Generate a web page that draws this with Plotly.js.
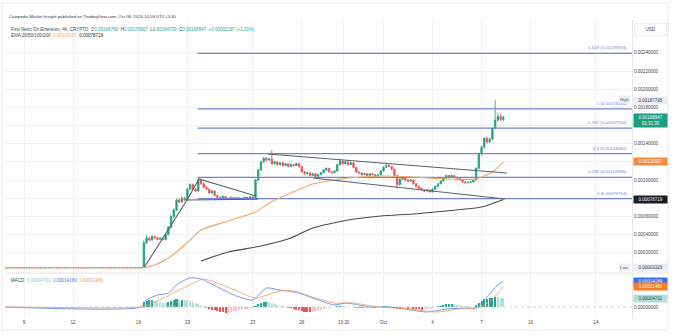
<!DOCTYPE html>
<html><head><meta charset="utf-8">
<script src="https://cdn.plot.ly/plotly-3.0.1.min.js"></script>
<style>html,body{margin:0;padding:0;background:#fff;}#chart{width:676px;height:336px;}</style>
</head><body><div id="chart"></div>
<script>
// ---------------- DATA ----------------
// 4h candles, first candle 2024-09-07 20:00, 51 pre-launch candles then 133 candles from 2024-09-16 08:00
const preCount = 51;
const open = [
3.50e-5,3.52e-5,3.48e-5,3.55e-5,3.60e-5,3.57e-5,3.50e-5,3.46e-5,3.51e-5,3.58e-5,3.62e-5,3.59e-5,3.54e-5,3.49e-5,3.45e-5,3.50e-5,3.56e-5,3.61e-5,3.66e-5,3.62e-5,
3.57e-5,3.53e-5,3.49e-5,3.52e-5,3.58e-5,3.63e-5,3.60e-5,3.55e-5,3.50e-5,3.47e-5,3.44e-5,3.49e-5,3.54e-5,3.59e-5,3.64e-5,3.68e-5,3.63e-5,3.58e-5,3.54e-5,3.50e-5,
3.47e-5,3.51e-5,3.56e-5,3.60e-5,3.57e-5,3.53e-5,3.49e-5,3.46e-5,3.50e-5,3.54e-5,3.52e-5,
3.55e-5,3.10e-4,3.60e-4,3.40e-4,3.80e-4,3.65e-4,3.50e-4,3.60e-4,3.45e-4,4.00e-4,
4.80e-4,6.00e-4,6.70e-4,7.80e-4,7.60e-4,8.00e-4,7.80e-4,9.00e-4,9.50e-4,9.00e-4,
8.80e-4,1.000e-3,9.60e-4,9.20e-4,9.00e-4,8.60e-4,8.80e-4,8.30e-4,8.10e-4,8.00e-4,
8.20e-4,8.00e-4,7.90e-4,8.10e-4,7.95e-4,8.05e-4,7.90e-4,8.00e-4,8.10e-4,8.00e-4,
8.15e-4,8.05e-4,1.000e-3,1.110e-3,1.200e-3,1.240e-3,1.220e-3,1.230e-3,1.180e-3,1.200e-3,
1.170e-3,1.190e-3,1.160e-3,1.180e-3,1.150e-3,1.170e-3,1.160e-3,1.180e-3,1.150e-3,1.090e-3,
1.070e-3,1.080e-3,1.050e-3,1.070e-3,1.040e-3,1.060e-3,1.080e-3,1.110e-3,1.130e-3,1.090e-3,
1.080e-3,1.100e-3,1.170e-3,1.210e-3,1.180e-3,1.200e-3,1.170e-3,1.190e-3,1.140e-3,1.090e-3,
1.080e-3,1.060e-3,1.070e-3,1.050e-3,1.070e-3,1.060e-3,1.040e-3,1.060e-3,1.100e-3,1.140e-3,
1.160e-3,1.150e-3,1.120e-3,1.050e-3,9.50e-4,1.010e-3,1.030e-3,1.000e-3,9.90e-4,1.000e-3,
9.60e-4,9.30e-4,9.10e-4,8.90e-4,8.80e-4,8.90e-4,8.70e-4,9.00e-4,9.30e-4,9.60e-4,
9.90e-4,1.020e-3,1.050e-3,1.030e-3,1.050e-3,1.030e-3,1.020e-3,1.000e-3,9.80e-4,9.70e-4,
9.75e-4,9.80e-4,1.000e-3,1.130e-3,1.290e-3,1.360e-3,1.460e-3,1.420e-3,1.450e-3,1.570e-3,
1.660e-3,1.700e-3,1.6676e-3];
const high = [
3.55e-5,3.55e-5,3.58e-5,3.63e-5,3.63e-5,3.60e-5,3.53e-5,3.54e-5,3.61e-5,3.65e-5,3.65e-5,3.62e-5,3.57e-5,3.52e-5,3.53e-5,3.59e-5,3.64e-5,3.69e-5,3.69e-5,3.65e-5,
3.60e-5,3.56e-5,3.55e-5,3.61e-5,3.66e-5,3.66e-5,3.63e-5,3.58e-5,3.53e-5,3.50e-5,3.52e-5,3.57e-5,3.62e-5,3.67e-5,3.71e-5,3.71e-5,3.66e-5,3.61e-5,3.57e-5,3.53e-5,
3.54e-5,3.59e-5,3.63e-5,3.63e-5,3.60e-5,3.56e-5,3.52e-5,3.53e-5,3.57e-5,3.57e-5,3.58e-5,
3.35e-4,3.95e-4,3.72e-4,3.92e-4,3.88e-4,3.70e-4,3.72e-4,3.66e-4,4.10e-4,4.95e-4,
6.15e-4,6.90e-4,8.00e-4,8.05e-4,8.20e-4,8.15e-4,9.15e-4,9.65e-4,9.60e-4,9.15e-4,
1.030e-3,1.010e-3,9.75e-4,9.35e-4,9.10e-4,8.90e-4,8.85e-4,8.40e-4,8.18e-4,8.30e-4,
8.25e-4,8.08e-4,8.18e-4,8.15e-4,8.12e-4,8.10e-4,8.06e-4,8.18e-4,8.14e-4,8.22e-4,
8.20e-4,1.010e-3,1.125e-3,1.210e-3,1.255e-3,1.250e-3,1.245e-3,1.330e-3,1.210e-3,1.210e-3,
1.200e-3,1.195e-3,1.190e-3,1.185e-3,1.180e-3,1.178e-3,1.190e-3,1.185e-3,1.155e-3,1.100e-3,
1.090e-3,1.085e-3,1.080e-3,1.075e-3,1.068e-3,1.090e-3,1.120e-3,1.140e-3,1.135e-3,1.095e-3,
1.110e-3,1.180e-3,1.240e-3,1.215e-3,1.210e-3,1.205e-3,1.200e-3,1.195e-3,1.145e-3,1.095e-3,
1.085e-3,1.080e-3,1.075e-3,1.078e-3,1.075e-3,1.065e-3,1.068e-3,1.110e-3,1.150e-3,1.175e-3,
1.170e-3,1.155e-3,1.125e-3,1.055e-3,1.020e-3,1.040e-3,1.035e-3,1.010e-3,1.010e-3,1.005e-3,
9.65e-4,9.40e-4,9.15e-4,9.00e-4,9.00e-4,8.95e-4,9.10e-4,9.40e-4,9.65e-4,9.95e-4,
1.030e-3,1.060e-3,1.055e-3,1.060e-3,1.055e-3,1.040e-3,1.025e-3,1.005e-3,9.85e-4,9.82e-4,
9.90e-4,1.005e-3,1.140e-3,1.300e-3,1.380e-3,1.470e-3,1.480e-3,1.470e-3,1.580e-3,1.87795e-3,
1.740e-3,1.730e-3,1.70807e-3];
const low = [
3.47e-5,3.45e-5,3.45e-5,3.52e-5,3.54e-5,3.47e-5,3.43e-5,3.43e-5,3.48e-5,3.55e-5,3.56e-5,3.51e-5,3.46e-5,3.42e-5,3.42e-5,3.47e-5,3.53e-5,3.58e-5,3.59e-5,3.54e-5,
3.50e-5,3.46e-5,3.46e-5,3.49e-5,3.55e-5,3.57e-5,3.52e-5,3.47e-5,3.44e-5,3.41e-5,3.41e-5,3.46e-5,3.51e-5,3.56e-5,3.61e-5,3.60e-5,3.55e-5,3.51e-5,3.47e-5,3.44e-5,
3.44e-5,3.48e-5,3.53e-5,3.54e-5,3.50e-5,3.46e-5,3.43e-5,3.43e-5,3.47e-5,3.49e-5,3.49e-5,
3.329e-5,2.95e-4,3.30e-4,3.35e-4,3.55e-4,3.40e-4,3.42e-4,3.35e-4,3.40e-4,3.95e-4,
4.70e-4,5.85e-4,6.60e-4,7.45e-4,7.50e-4,7.70e-4,7.75e-4,8.90e-4,8.90e-4,8.70e-4,
8.75e-4,9.50e-4,9.10e-4,8.90e-4,8.50e-4,8.50e-4,8.25e-4,8.00e-4,7.92e-4,7.95e-4,
7.95e-4,7.85e-4,7.86e-4,7.90e-4,7.90e-4,7.85e-4,7.86e-4,7.95e-4,7.94e-4,7.96e-4,
7.98e-4,8.00e-4,9.90e-4,1.100e-3,1.190e-3,1.205e-3,1.210e-3,1.170e-3,1.170e-3,1.160e-3,
1.160e-3,1.150e-3,1.155e-3,1.140e-3,1.145e-3,1.150e-3,1.155e-3,1.140e-3,1.080e-3,1.060e-3,
1.065e-3,1.040e-3,1.045e-3,1.030e-3,1.035e-3,1.055e-3,1.075e-3,1.100e-3,1.085e-3,1.070e-3,
1.075e-3,1.095e-3,1.160e-3,1.170e-3,1.175e-3,1.160e-3,1.165e-3,1.135e-3,1.080e-3,1.070e-3,
1.050e-3,1.055e-3,1.040e-3,1.045e-3,1.050e-3,1.030e-3,1.035e-3,1.055e-3,1.095e-3,1.135e-3,
1.140e-3,1.110e-3,1.040e-3,9.10e-4,9.40e-4,1.000e-3,9.90e-4,9.80e-4,9.85e-4,9.50e-4,
9.20e-4,9.00e-4,8.80e-4,8.70e-4,8.75e-4,8.60e-4,8.65e-4,8.95e-4,9.25e-4,9.55e-4,
9.85e-4,1.015e-3,1.020e-3,1.025e-3,1.020e-3,1.010e-3,9.90e-4,9.75e-4,9.60e-4,9.65e-4,
9.70e-4,9.75e-4,9.95e-4,1.120e-3,1.270e-3,1.350e-3,1.400e-3,1.410e-3,1.440e-3,1.560e-3,
1.640e-3,1.650e-3,1.64709e-3];
const close = [
3.52e-5,3.48e-5,3.55e-5,3.60e-5,3.57e-5,3.50e-5,3.46e-5,3.51e-5,3.58e-5,3.62e-5,3.59e-5,3.54e-5,3.49e-5,3.45e-5,3.50e-5,3.56e-5,3.61e-5,3.66e-5,3.62e-5,3.57e-5,
3.53e-5,3.49e-5,3.52e-5,3.58e-5,3.63e-5,3.60e-5,3.55e-5,3.50e-5,3.47e-5,3.44e-5,3.49e-5,3.54e-5,3.59e-5,3.64e-5,3.68e-5,3.63e-5,3.58e-5,3.54e-5,3.50e-5,3.47e-5,
3.51e-5,3.56e-5,3.60e-5,3.57e-5,3.53e-5,3.49e-5,3.46e-5,3.50e-5,3.54e-5,3.52e-5,3.55e-5,
3.10e-4,3.60e-4,3.40e-4,3.80e-4,3.65e-4,3.50e-4,3.60e-4,3.45e-4,4.00e-4,4.80e-4,
6.00e-4,6.70e-4,7.80e-4,7.60e-4,8.00e-4,7.80e-4,9.00e-4,9.50e-4,9.00e-4,8.80e-4,
1.000e-3,9.60e-4,9.20e-4,9.00e-4,8.60e-4,8.80e-4,8.30e-4,8.10e-4,8.00e-4,8.20e-4,
8.00e-4,7.90e-4,8.10e-4,7.95e-4,8.05e-4,7.90e-4,8.00e-4,8.10e-4,8.00e-4,8.15e-4,
8.05e-4,1.000e-3,1.110e-3,1.200e-3,1.240e-3,1.220e-3,1.230e-3,1.180e-3,1.200e-3,1.170e-3,
1.190e-3,1.160e-3,1.180e-3,1.150e-3,1.170e-3,1.160e-3,1.180e-3,1.150e-3,1.090e-3,1.070e-3,
1.080e-3,1.050e-3,1.070e-3,1.040e-3,1.060e-3,1.080e-3,1.110e-3,1.130e-3,1.090e-3,1.080e-3,
1.100e-3,1.170e-3,1.210e-3,1.180e-3,1.200e-3,1.170e-3,1.190e-3,1.140e-3,1.090e-3,1.080e-3,
1.060e-3,1.070e-3,1.050e-3,1.070e-3,1.060e-3,1.040e-3,1.060e-3,1.100e-3,1.140e-3,1.160e-3,
1.150e-3,1.120e-3,1.050e-3,9.50e-4,1.010e-3,1.030e-3,1.000e-3,9.90e-4,1.000e-3,9.60e-4,
9.30e-4,9.10e-4,8.90e-4,8.80e-4,8.90e-4,8.70e-4,9.00e-4,9.30e-4,9.60e-4,9.90e-4,
1.020e-3,1.050e-3,1.030e-3,1.050e-3,1.030e-3,1.020e-3,1.000e-3,9.80e-4,9.70e-4,9.75e-4,
9.80e-4,1.000e-3,1.130e-3,1.290e-3,1.360e-3,1.460e-3,1.420e-3,1.450e-3,1.570e-3,1.660e-3,
1.700e-3,1.668e-3,1.68947e-3];

// EMA lines
const emaFastDates = ['2024-09-07 20:00','2024-09-16 04:00','2024-09-16 08:00','2024-09-17 00:00','2024-09-17 20:00','2024-09-18 20:00','2024-09-19 20:00','2024-09-21 12:00','2024-09-23 04:00','2024-09-24 00:00','2024-09-25 08:00','2024-09-26 16:00','2024-09-28 20:00','2024-09-30 20:00','2024-10-02 20:00','2024-10-04 20:00','2024-10-06 16:00','2024-10-07 16:00','2024-10-08 08:00'];
const emaFastVals = [3.6e-5,3.5e-5,3.6e-5,6.6e-5,1.43e-4,2.86e-4,4.51e-4,5.50e-4,6.49e-4,7.48e-4,8.58e-4,9.57e-4,1.023e-3,1.045e-3,1.034e-3,1.012e-3,1.012e-3,1.089e-3,1.20037e-3];
const emaSlowDates = ['2024-09-19 20:00','2024-09-21 12:00','2024-09-23 12:00','2024-09-25 08:00','2024-09-26 16:00','2024-09-28 20:00','2024-09-30 20:00','2024-10-02 20:00','2024-10-04 20:00','2024-10-07 00:00','2024-10-08 08:00'];
const emaSlowVals = [1.10e-4,2.09e-4,2.75e-4,3.63e-4,4.73e-4,5.61e-4,6.05e-4,6.27e-4,6.60e-4,7.04e-4,7.8719e-4];

// Fibonacci retracement
const fibRatios = ['0','0.236','0.5','0.786','1','1.618'];
const fibPrices = [0.00079714,0.00102996,0.00129040,0.00157254,0.00178366,0.00239333];
const fibStart = '2024-09-19 15:00';

// Drawn trend lines
const triDates = ['2024-09-16 09:00','2024-09-18 23:24','2024-09-19 17:00','2024-09-23 04:48'];
const triVals = [4.4e-5,7.81e-4,1.012e-3,8.25e-4];
const triBaseDates = ['2024-09-18 23:24','2024-09-23 07:40'];
const triBaseVals = [7.81e-4,7.90e-4];
const chanUpDates = ['2024-09-23 22:20','2024-10-08 13:27'];
const chanUpVals = [1.287e-3,1.078e-3];
const chanLowDates = ['2024-09-26 16:32','2024-10-08 10:32'];
const chanLowVals = [1.023e-3,7.92e-4];

// MACD
const macdDates = ['2024-09-07 20:00','2024-09-16 04:00','2024-09-16 12:00','2024-09-17 04:00','2024-09-17 20:00','2024-09-18 08:00','2024-09-19 04:00','2024-09-19 20:00','2024-09-20 20:00','2024-09-21 20:00','2024-09-23 00:00','2024-09-23 20:00','2024-09-24 16:00','2024-09-25 20:00','2024-09-27 00:00','2024-09-28 00:00','2024-09-28 16:00','2024-09-29 04:00','2024-09-30 04:00','2024-10-01 08:00','2024-10-02 16:00','2024-10-03 16:00','2024-10-04 20:00','2024-10-06 04:00','2024-10-06 16:00','2024-10-07 08:00','2024-10-08 00:00','2024-10-08 08:00'];
const macdVals = [0,0,3.85e-5,6.6e-5,7.7e-5,1.21e-4,1.60e-4,1.54e-4,1.10e-4,6.6e-5,3.85e-5,1.045e-4,9.35e-5,7.7e-5,3.85e-5,1.1e-5,2.2e-5,1.65e-5,0,0,-1.65e-5,-2.75e-5,-1.1e-5,-5.5e-6,-5.5e-6,5.5e-5,1.21e-4,1.4189e-4];
const signalDates = ['2024-09-07 20:00','2024-09-16 08:00','2024-09-16 16:00','2024-09-17 16:00','2024-09-18 12:00','2024-09-19 12:00','2024-09-20 00:00','2024-09-21 00:00','2024-09-22 04:00','2024-09-23 04:00','2024-09-24 16:00','2024-09-25 12:00','2024-09-26 16:00','2024-09-28 00:00','2024-09-29 04:00','2024-09-30 16:00','2024-10-02 16:00','2024-10-04 04:00','2024-10-05 16:00','2024-10-06 16:00','2024-10-07 12:00','2024-10-08 08:00'];
const signalVals = [0,0,1.1e-5,5.5e-5,9.35e-5,1.375e-4,1.54e-4,1.265e-4,8.25e-5,4.95e-5,8.8e-5,8.8e-5,5.5e-5,2.2e-5,2.2e-5,0,-1.1e-5,-2.75e-5,-1.1e-5,-5.5e-6,2.75e-5,1.1466e-4];
const histVals = [
2.5e-5,3.5e-5,3.6e-5,3.8e-5,3.4e-5,3.0e-5,2.7e-5,2.4e-5,2.2e-5,2.6e-5,
3.3e-5,3.7e-5,4.2e-5,4.0e-5,4.1e-5,3.8e-5,3.6e-5,3.3e-5,2.7e-5,2.0e-5,
1.7e-5,1.0e-5,4e-6,-3e-6,-1.0e-5,-1.4e-5,-1.8e-5,-2.2e-5,-2.6e-5,-3.0e-5,
-3.3e-5,-3.1e-5,-2.8e-5,-2.4e-5,-2.1e-5,-1.8e-5,-1.5e-5,-1.2e-5,-9e-6,-6e-6,
-3e-6,8e-6,1.6e-5,2.2e-5,2.6e-5,2.8e-5,2.5e-5,2.0e-5,1.6e-5,1.2e-5,
8e-6,4e-6,1e-6,-4e-6,-8e-6,-1.2e-5,-1.5e-5,-1.8e-5,-2.2e-5,-2.6e-5,
-2.8e-5,-2.9e-5,-2.7e-5,-2.4e-5,-2.0e-5,-1.5e-5,-1.0e-5,-6e-6,-4e-6,-2e-6,
1e-6,4e-6,6e-6,5e-6,4e-6,2e-6,1e-6,-2e-6,-5e-6,-7e-6,
-8e-6,-7e-6,-6e-6,-5e-6,-4e-6,-3e-6,-2e-6,1e-6,3e-6,4e-6,
3e-6,1e-6,-3e-6,-8e-6,-9e-6,-8e-6,-8e-6,-9e-6,-9e-6,-1.0e-5,
-1.2e-5,-1.3e-5,-1.4e-5,-1.3e-5,-1.1e-5,-1.0e-5,-6e-6,-2e-6,3e-6,8e-6,
1.2e-5,1.6e-5,1.7e-5,1.8e-5,1.6e-5,1.3e-5,1.0e-5,7e-6,5e-6,3e-6,
1e-6,1e-6,1.2e-5,2.4e-5,3.2e-5,4.2e-5,4.5e-5,4.7e-5,5.2e-5,5.5e-5,
5.4e-5,5.0e-5,4.701e-5];

// Axis ticks (labels hidden behind the value boxes are left blank)
const tickDates = ['2024-09-09','2024-09-12','2024-09-16','2024-09-19','2024-09-23','2024-09-26','2024-09-28 13:30','2024-10-01','2024-10-04','2024-10-07','2024-10-10','2024-10-14'];
const tickText = ['9','12','16','19','23','26','13:30','Oct','4','7','10','14'];
const priceTicks = [0.0002,0.0004,0.0006,0.0008,0.0010,0.0012,0.0014,0.0016,0.0018,0.0020,0.0022,0.0024];
const priceTickText = ['0.00020000','0.00040000','0.00060000','','0.00100000','','0.00140000','','0.00180000','0.00200000','0.00220000','0.00240000'];
const macdTicks = [0];
const macdTickText = ['0.00000000'];

// Last values / labels
const lastClose = 0.00168947, highVal = 0.00187795, lowVal = 0.00003329;
const emaFastLast = 0.00120037, emaSlowLast = 0.00078719;
const macdLast = 0.00014189, signalLast = 0.00011466, histLast = 0.00004701;

// ---------------- RENDER ----------------
const W = 676, H = 336, ML = 5, MR = 44, MT = 20, MB = 18;
const px = x => (x - ML) / (W - ML - MR);
const py = y => (H - MB - y) / (H - MT - MB);
const xRange = ['2024-09-07 20:05', '2024-10-16 05:00'];
const step = 4 * 3600 * 1000;
const t0 = Date.UTC(2024, 8, 7, 20, 0);
const fmt = ms => new Date(ms).toISOString().slice(0, 16).replace('T', ' ');
const times = open.map((_, i) => fmt(t0 + i * step));
const histTimes = times.slice(preCount);

const GREEN = '#22a186', RED = '#ef5350';
const histColors = histVals.map((v, i) => {
  const p = i > 0 ? histVals[i - 1] : 0;
  if (v >= 0) return v >= p ? '#26a69a' : '#b2dfdb';
  return v < p ? '#ef5350' : '#f8c4c6';
});

const lineTrace = (x, y, color, w, ax, ay, shape) => ({
  type: 'scatter', mode: 'lines', x: x, y: y, xaxis: ax || 'x', yaxis: ay || 'y',
  line: shape ? { color: color, width: w, shape: 'spline', smoothing: shape } : { color: color, width: w },
  hoverinfo: 'skip'
});

const FIB = '#6f86d8';
const traces = [];
fibPrices.forEach(p => traces.push(lineTrace([fibStart, xRange[1]], [p, p], FIB, 1.2)));
traces.push(lineTrace(emaSlowDates, emaSlowVals, '#4a4a4a', 1.1, 'x', 'y', 0.6));
traces.push(lineTrace(emaFastDates, emaFastVals, '#f4a460', 1.1, 'x', 'y', 0.5));
traces.push(lineTrace(triDates, triVals, '#5a5f6e', 1.1));
traces.push(lineTrace(triBaseDates, triBaseVals, '#5a5f6e', 1.1));
traces.push(lineTrace(chanUpDates, chanUpVals, '#5a5f6e', 1.1));
traces.push(lineTrace(chanLowDates, chanLowVals, '#5a5f6e', 1.1));
traces.push({
  type: 'candlestick', x: times, open: open, high: high, low: low, close: close,
  xaxis: 'x', yaxis: 'y', whiskerwidth: 0, hoverinfo: 'skip',
  increasing: { line: { color: GREEN, width: 0.9 }, fillcolor: GREEN },
  decreasing: { line: { color: RED, width: 0.9 }, fillcolor: RED }
});
traces.push({ type: 'bar', x: histTimes, y: histVals, xaxis: 'x2', yaxis: 'y2', width: step * 0.75, marker: { color: histColors, line: { width: 0 } }, hoverinfo: 'skip' });
traces.push(lineTrace(macdDates, macdVals, '#4f7df0', 0.8, 'x2', 'y2', 0.6));
traces.push(lineTrace(signalDates, signalVals, '#f19a5a', 0.8, 'x2', 'y2', 0.6));

const FONT = 'Liberation Sans, Arial, sans-serif';
const ann = [];
const txt = (x, y, text, size, color) => ann.push({ xref: 'paper', yref: 'paper', x: px(x), y: py(y), xanchor: 'left', yanchor: 'middle', text: text, showarrow: false, font: { family: FONT, size: size, color: color } });
const NB = '\u00a0\u00a0';
const teal = s => "<span style='color:#26a69a'>" + s + "</span>";
txt(7, 16.5, 'Coinpedia Market Insight published on TradingView.com, Oct 08, 2024 14:58 UTC+5:30', 4.3, '#333');
txt(9, 29, 'First Neiro On Ethereum, 4h, CRYPTO' + NB + 'O' + teal('0.00166760') + NB + 'H' + teal('0.00170807') + NB + 'L' + teal('0.00164709') + NB + 'C' + teal('0.00168947') + NB + teal('+0.00002187 (+1.31%)'), 4.5, '#444');
txt(9, 35.5, 'EMA 20/50/100/200' + NB + "<span style='color:#f4a460'>0.00120037</span>" + NB + "<span style='color:#222'>0.00078719</span>", 4.5, '#444');
txt(9, 280, 'MACD' + NB + "<span style='color:#7fcfc2'>0.00004701</span>" + NB + "<span style='color:#4f7df0'>0.00014189</span>" + NB + "<span style='color:#f19a5a'>0.00011466</span>", 4.5, '#444');

// fib labels
fibPrices.forEach((p, i) => ann.push({ xref: 'paper', yref: 'y', x: 1, y: p, xanchor: 'right', yanchor: 'bottom', xshift: -3, yshift: 1, showarrow: false, text: fibRatios[i] + ' (' + p.toFixed(8) + ')', font: { family: FONT, size: 4.4, color: FIB } }));

// price scale labels
const box = (text, y, yref, bg, fg) => ann.push({ xref: 'paper', yref: yref, x: 1, y: y, xanchor: 'left', yanchor: 'middle', xshift: 1, showarrow: false, text: text, bgcolor: bg, borderpad: 1.2, width: 31, align: 'center', font: { family: FONT, size: 4.5, color: fg } });
const side = (text, y, dy) => ann.push({ xref: 'paper', yref: 'y', x: 1, y: y, xanchor: 'right', yanchor: 'middle', xshift: -1, yshift: dy || 0, showarrow: false, text: text, bgcolor: '#e9eef8', borderpad: 1, font: { family: FONT, size: 4.3, color: '#555' } });
box(highVal.toFixed(8), highVal, 'y', '#e9eef8', '#333');
side('High', highVal, 1);
ann.push({ xref: 'paper', yref: 'y', x: 1, y: lastClose, xanchor: 'left', yanchor: 'middle', xshift: 1, yshift: -3, showarrow: false, text: lastClose.toFixed(8) + '<br>01:31:30', bgcolor: '#1f9d80', borderpad: 1.2, width: 31, align: 'center', font: { family: FONT, size: 4.5, color: '#fff' } });
box(emaFastLast.toFixed(8), emaFastLast, 'y', '#f08c3c', '#fff');
box(emaSlowLast.toFixed(8), emaSlowLast, 'y', '#1e1e22', '#fff');
box(lowVal.toFixed(8), lowVal, 'y', '#e9eef8', '#333');
side('Low', lowVal);
box(macdLast.toFixed(8), macdLast, 'y2', '#3b6ff0', '#fff');
box(signalLast.toFixed(8), signalLast, 'y2', '#f57c20', '#fff');
box(histLast.toFixed(8), histLast, 'y2', '#b2dfdb', '#333');
ann.push({ xref: 'paper', yref: 'paper', x: px(650), y: py(29), xanchor: 'center', yanchor: 'middle', showarrow: false, text: 'USD', width: 30, height: 10, bordercolor: '#e2e2e2', borderwidth: 0.6, bgcolor: '#fff', font: { family: FONT, size: 4.6, color: '#444' } });

const shapes = [
  { type: 'line', xref: 'paper', yref: 'paper', x0: 0, x1: px(668), y0: py(273), y1: py(273), line: { color: '#e4e4e4', width: 1 } },
  { type: 'line', xref: 'paper', yref: 'y2', x0: 0, x1: 1, y0: 0, y1: 0, line: { color: '#c4c4c4', width: 0.8, dash: 'dot' } },
  { type: 'rect', xref: 'paper', yref: 'paper', x0: px(2), x1: px(668), y0: py(330), y1: py(3), line: { color: '#e8e8e8', width: 1 } }
];

const axFont = { family: FONT, size: 4.6, color: '#444' };
const layout = {
  width: W, height: H, margin: { l: ML, r: MR, t: MT, b: MB },
  paper_bgcolor: '#fff', plot_bgcolor: '#fff', showlegend: false, hovermode: false,
  font: { family: FONT, size: 5, color: '#444' },
  xaxis: { type: 'date', range: xRange, anchor: 'y', domain: [0, 1], tickvals: tickDates, ticktext: tickText, showticklabels: false, showgrid: true, gridcolor: '#f1f1f1', zeroline: false, ticks: '', rangeslider: { visible: false }, fixedrange: true },
  xaxis2: { type: 'date', range: xRange, anchor: 'y2', matches: 'x', tickvals: tickDates, ticktext: tickText, showgrid: true, gridcolor: '#f1f1f1', zeroline: false, ticks: '', tickfont: axFont, rangeslider: { visible: false } },
  yaxis: { domain: [py(272), 1], range: [-1.1e-5, 0.002761], side: 'right', tickvals: priceTicks, ticktext: priceTickText, showgrid: true, gridcolor: '#f1f1f1', zeroline: false, ticks: '', tickfont: axFont, showline: true, linecolor: '#e6e6e6', linewidth: 1 },
  yaxis2: { domain: [0, py(274)], range: [-6.05e-5, 1.815e-4], side: 'right', tickvals: macdTicks, ticktext: macdTickText, showgrid: false, zeroline: false, ticks: '', tickfont: axFont, showline: true, linecolor: '#e6e6e6', linewidth: 1 },
  annotations: ann, shapes: shapes, bargap: 0
};
Plotly.newPlot('chart', traces, layout, { displayModeBar: false, staticPlot: true });
</script></body></html>
